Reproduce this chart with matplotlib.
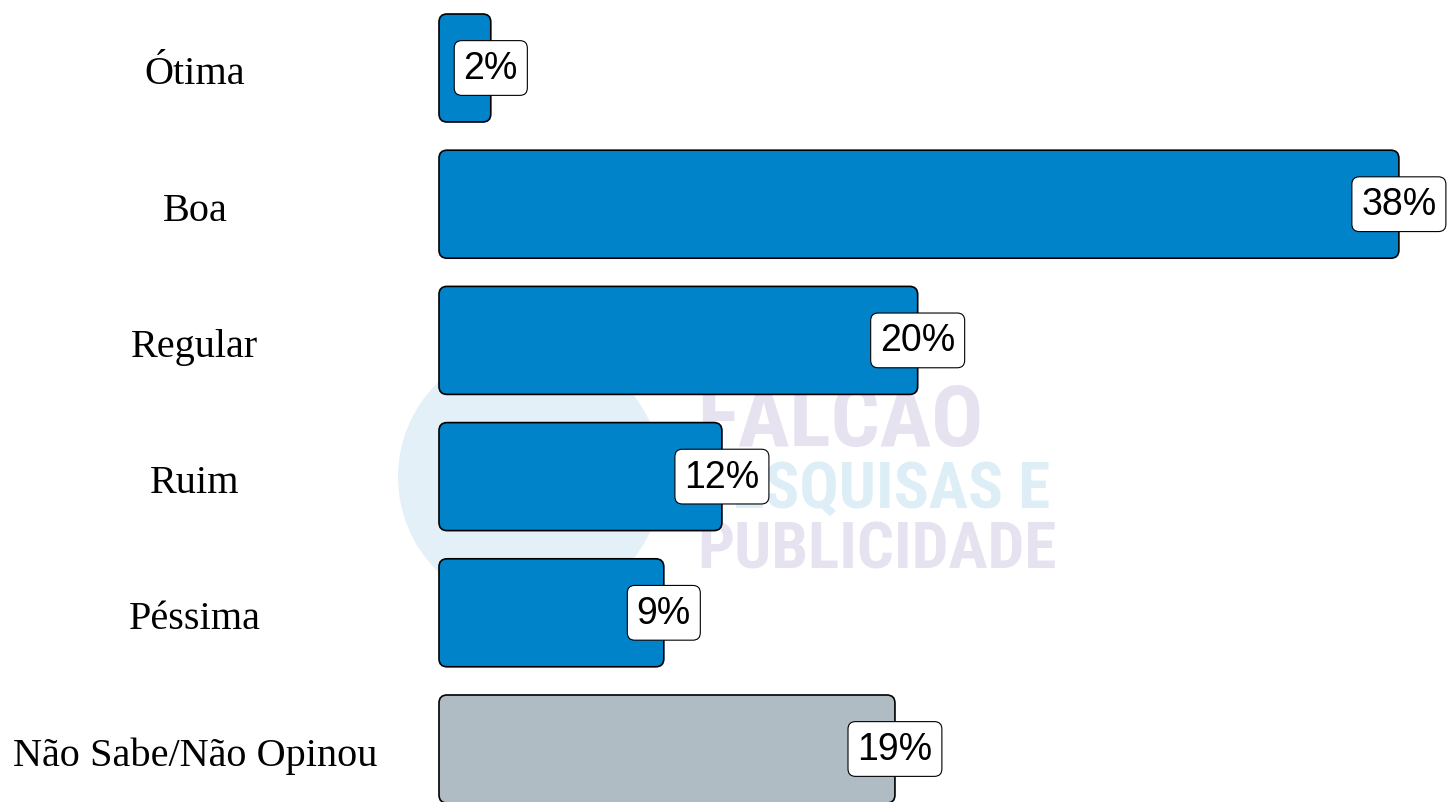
import matplotlib.pyplot as plt
from matplotlib.patches import FancyBboxPatch, Circle
from matplotlib.transforms import IdentityTransform

# Data (bar lengths, labels as printed)
categories = ['Ótima', 'Boa', 'Regular', 'Ruim', 'Péssima', 'Não Sabe/Não Opinou']
values = [2.05, 38.0, 18.95, 11.2, 8.9, 18.05]
labels = ['2%', '38%', '20%', '12%', '9%', '19%']
colors = ['#0083C9'] * 5 + ['#B0BCC4']

W, H = 1447, 803
fig = plt.figure(figsize=(W / 100, H / 100), dpi=100)

# faint watermark behind the chart
fig.patches.append(Circle((530, H - 478), 132, transform=IdentityTransform(),
                          facecolor='#E4F0F8', edgecolor='none', zorder=0))
wm = dict(family=['Roboto Condensed', 'Liberation Sans Narrow', 'DejaVu Sans'],
          fontweight='bold', va='baseline', zorder=0)
fig.text(697 / W, 1 - 446 / H, 'FALCAO', color='#E6E2EF', fontsize=62, ha='left', **wm)
fig.text(1050 / W, 1 - 508 / H, 'PESQUISAS E', color='#DDEEF7', fontsize=47, ha='right', **wm)
fig.text(697 / W, 1 - 569 / H, 'PUBLICIDADE', color='#E6E2EF', fontsize=47, ha='left', **wm)

x_px = 25.26          # pixels per percent
y_px = 136.2          # pixels per category
left = 439
ax = fig.add_axes([left / W, 0, 39 * x_px / W, 1])
ax.set_zorder(2)
ax.patch.set_alpha(0)
ax.set_xlim(0, 39)
ax.set_ylim(5 + (H - 750) / y_px, -69 / y_px)
ax.axis('off')

bar_h = 108 / y_px
aspect = (1 / y_px) / (1 / x_px)
for i, (v, c) in enumerate(zip(values, colors)):
    ax.add_patch(FancyBboxPatch((0, i - bar_h / 2), v, bar_h,
                                boxstyle='round,pad=0,rounding_size=0.32',
                                mutation_aspect=aspect, facecolor=c,
                                edgecolor='black', linewidth=1.2, clip_on=False, zorder=2))
    ax.text(v, i, labels[i], ha='center', va='center', fontsize=27,
            family='Liberation Sans', zorder=3, clip_on=False,
            bbox=dict(boxstyle='round,pad=0.25,rounding_size=0.2', facecolor='white',
                      edgecolor='black', linewidth=0.8))
    fig.text(195 / W, 1 - (75 + i * y_px) / H, categories[i], ha='center', va='center',
             fontsize=29, family='Liberation Serif', zorder=3)

fig.savefig('out.png', dpi=100)
